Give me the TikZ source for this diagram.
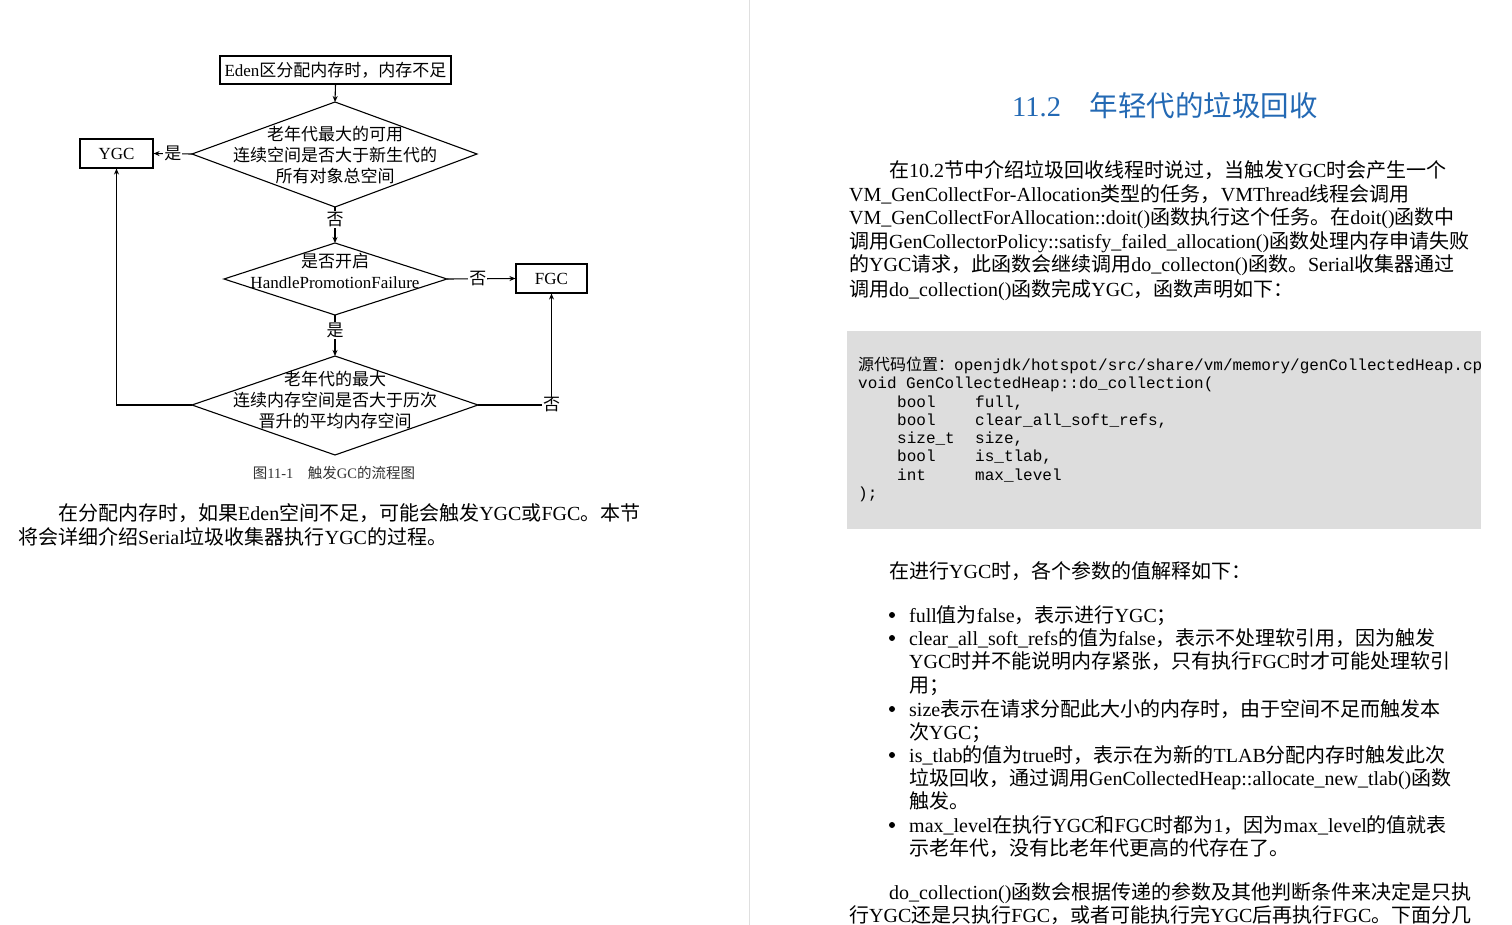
\documentclass[tikz,border=0pt]{standalone}
\usepackage{fontspec}
\setmainfont{Liberation Serif}
\newfontfamily\cjk{Noto Sans CJK SC}
\newfontfamily\codefont{Liberation Mono}
\newfontfamily\rmlatin{Liberation Serif}
\usetikzlibrary{arrows.meta}
\XeTeXinterchartokenstate=1
\newXeTeXintercharclass\CJKcls
\newcount\cc
\cc="4E00 \loop \XeTeXcharclass\cc=\CJKcls \advance\cc by 1 \ifnum\cc<"A000 \repeat
\cc="3000 \loop \XeTeXcharclass\cc=\CJKcls \advance\cc by 1 \ifnum\cc<"3040 \repeat
\cc="FF00 \loop \XeTeXcharclass\cc=\CJKcls \advance\cc by 1 \ifnum\cc<"FFF0 \repeat
\def\curlatin{\rmlatin}
\XeTeXinterchartoks 0 \CJKcls = {\cjk}
\XeTeXinterchartoks 4095 \CJKcls = {\cjk}
\XeTeXinterchartoks \CJKcls 0 = {\curlatin}
\definecolor{codebg}{RGB}{221,221,221}
\definecolor{titleblue}{RGB}{35,105,180}
\tikzset{
  txt/.style={anchor=base west,inner sep=0pt,font=\fontsize{20}{20}\selectfont},
  ftxt/.style={inner sep=0pt,align=center,font=\fontsize{17}{21}\selectfont},
  fbox/.style={draw,line width=1.1pt,inner sep=0pt,font=\fontsize{17}{17}\selectfont},
  dia/.style={draw,line width=1.1pt},
  arr/.style={line width=1.1pt,-{Stealth[length=6pt,width=5pt]}},
  lab/.style={fill=white,inner sep=1pt,font=\fontsize{17}{17}\selectfont},
  code/.style={anchor=base west,inner sep=0pt,font=\fontsize{16}{16}\codefont\def\curlatin{\codefont}}
}
\begin{document}
\begin{tikzpicture}[x=1pt,y=-1pt]
\useasboundingbox (0,0) rectangle (1512,925);
\fill[white] (0,0) rectangle (1512,925);
\draw[gray!25,line width=1pt] (749,0) -- (749,925);
% flowchart
\node[fbox,minimum width=231pt,minimum height=28pt] (eden) at (335.5,70) {Eden区分配内存时，内存不足};
\node[fbox,minimum width=73pt,minimum height=29pt] (ygc) at (116.5,153.5) {YGC};
\node[fbox,minimum width=71pt,minimum height=29pt] (fgc) at (551.5,278.5) {FGC};
\coordinate (d1t) at (335,102); \coordinate (d1b) at (335,207);
\coordinate (d1l) at (192,154); \coordinate (d1r) at (477,154);
\draw[dia] (d1t) -- (d1r) -- (d1b) -- (d1l) -- cycle;
\node[ftxt] (d1) at (335,155) {老年代最大的可用\\连续空间是否大于新生代的\\所有对象总空间};
\coordinate (d2t) at (335,243); \coordinate (d2b) at (335,315);
\coordinate (d2l) at (224,279); \coordinate (d2r) at (447,279);
\draw[dia] (d2t) -- (d2r) -- (d2b) -- (d2l) -- cycle;
\node[ftxt] (d2) at (335,271) {是否开启\\HandlePromotionFailure};
\coordinate (d3t) at (335,356); \coordinate (d3b) at (335,455);
\coordinate (d3l) at (192,405); \coordinate (d3r) at (478,405);
\draw[dia] (d3t) -- (d3r) -- (d3b) -- (d3l) -- cycle;
\node[ftxt] (d3) at (335,400) {老年代的最大\\连续内存空间是否大于历次\\晋升的平均内存空间};
\draw[arr] (eden.south) -- (d1t);
\draw[arr] (d1l) -- node[lab] {是} (ygc.east);
\draw[arr] (d1b) -- node[lab,pos=0.35] {否} (d2t);
\draw[arr] (d2r) -- node[lab,pos=0.45] {否} (fgc.west);
\draw[arr] (d2b) -- node[lab,pos=0.38] {是} (d3t);
\draw[arr] (d3l) -| (ygc.south);
\draw[arr] (d3r) -| node[lab,pos=0.5] {否} (fgc.south);
\node[inner sep=0pt,text=black!80,font=\fontsize{14.5}{14.5}\selectfont] (cap) at (334,473) {图11-1　触发GC的流程图};
% left paragraph
\node[txt] (p1) at (58,520) {在分配内存时，如果Eden空间不足，可能会触发YGC或FGC。本节};
\node[txt] (p2) at (18,544) {将会详细介绍Serial垃圾收集器执行YGC的过程。};
% right page
\node[anchor=base west,inner sep=0pt,text=titleblue,font=\fontsize{28.5}{28}\selectfont] (title) at (1012,117) {11.2　年轻代的垃圾回收};
\node[txt] (r1) at (889,178) {在10.2节中介绍垃圾回收线程时说过，当触发YGC时会产生一个};
\node[txt] (r2) at (849,202) {VM\_GenCollectFor-Allocation类型的任务，VMThread线程会调用};
\node[txt] (r3) at (849,225) {VM\_GenCollectForAllocation::doit()函数执行这个任务。在doit()函数中};
\node[txt] (r4) at (849,249) {调用GenCollectorPolicy::satisfy\_failed\_allocation()函数处理内存申请失败};
\node[txt] (r5) at (849,272) {的YGC请求，此函数会继续调用do\_collecton()函数。Serial收集器通过};
\node[txt] (r6) at (849,296) {调用do\_collection()函数完成YGC，函数声明如下：};
\fill[codebg] (847,331) rectangle (1481,529);
\begin{scope}
\clip (847,331) rectangle (1481,529);
\node[code] (c1) at (858,370) {源代码位置：openjdk/hotspot/src/share/vm/memory/genCollectedHeap.cpp};
\node[code] (c2) at (858,388) {void GenCollectedHeap::do\_collection(};
\node[code] (c3) at (897,407) {bool};   \node[code] (c3b) at (975,407) {full,};
\node[code] (c4) at (897,425) {bool};   \node[code] (c4b) at (975,425) {clear\_all\_soft\_refs,};
\node[code] (c5) at (897,443) {size\_t}; \node[code] (c5b) at (975,443) {size,};
\node[code] (c6) at (897,461) {bool};   \node[code] (c6b) at (975,461) {is\_tlab,};
\node[code] (c7) at (897,480) {int};    \node[code] (c7b) at (975,480) {max\_level};
\node[code] (c8) at (858,498) {);};
\end{scope}
\node[txt] (s0) at (889,578) {在进行YGC时，各个参数的值解释如下：};
\foreach \yy in {615,638,709,755,825}
  \fill (892,\yy) circle (3pt);
\node[txt] (s1) at (909,622) {full值为false，表示进行YGC；};
\node[txt] (s2) at (909,645) {clear\_all\_soft\_refs的值为false，表示不处理软引用，因为触发};
\node[txt] (s3) at (909,668) {YGC时并不能说明内存紧张，只有执行FGC时才可能处理软引};
\node[txt] (s4) at (909,692) {用；};
\node[txt] (s5) at (909,716) {size表示在请求分配此大小的内存时，由于空间不足而触发本};
\node[txt] (s6) at (909,739) {次YGC；};
\node[txt] (s7) at (909,762) {is\_tlab的值为true时，表示在为新的TLAB分配内存时触发此次};
\node[txt] (s8) at (909,785) {垃圾回收，通过调用GenCollectedHeap::allocate\_new\_tlab()函数};
\node[txt] (s9) at (909,808) {触发。};
\node[txt] (s10) at (909,832) {max\_level在执行YGC和FGC时都为1，因为max\_level的值就表};
\node[txt] (s11) at (909,855) {示老年代，没有比老年代更高的代存在了。};
\node[txt] (t1) at (889,899) {do\_collection()函数会根据传递的参数及其他判断条件来决定是只执};
\node[txt] (t2) at (849,922) {行YGC还是只执行FGC，或者可能执行完YGC后再执行FGC。下面分几};
\end{tikzpicture}
\end{document}
